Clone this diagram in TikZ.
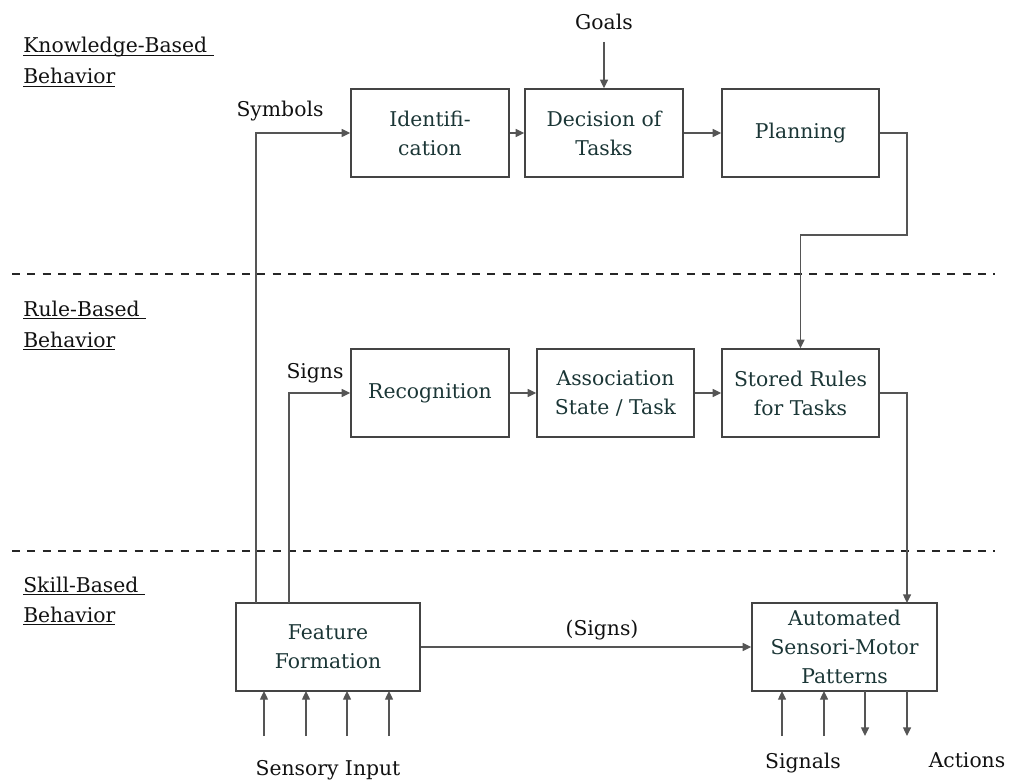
\documentclass[tikz,border=0pt]{standalone}
\usepackage{fontspec}
\setmainfont{DejaVu Serif}
\usetikzlibrary{arrows.meta}
\definecolor{boxtext}{HTML}{1B3636}
\definecolor{linegray}{HTML}{555555}
\definecolor{framegray}{HTML}{444444}
\definecolor{labeltext}{HTML}{111111}
% underline that sits just below the baseline, crossing descenders
\newcommand\baseul[1]{\setbox0\hbox{#1}\rlap{\rule[-2.2pt]{\wd0}{0.7pt}}\box0}
\begin{document}
\begin{tikzpicture}[x=0.75pt,y=-0.75pt,
  font=\fontsize{15.25pt}{21.75pt}\selectfont,
  stepbox/.style={draw=framegray,line width=1.1pt,rectangle,inner sep=0pt,
    minimum width=118.5pt,minimum height=66pt,align=center,text=boxtext},
  lbl/.style={anchor=base,inner sep=0pt,text=labeltext},
  heading/.style={anchor=base west,inner sep=0pt,text=labeltext},
  conn/.style={draw=linegray,line width=1pt},
  arr/.style={conn,-{Triangle[length=6.5pt,width=6pt]}},
  layer/.style={draw=black!85,line width=1.8pt,dash pattern=on 6pt off 5.5pt}]
\useasboundingbox (0,0) rectangle (1009,780);

% layer boundaries
\coordinate (d1a) at (12,274); \coordinate (d1b) at (995,274);
\coordinate (d2a) at (12,551); \coordinate (d2b) at (995,551);
\draw[layer] (d1a) -- (d1b);
\draw[layer] (d2a) -- (d2b);

% layer headings
\node[heading] (hk1) at (23,53) {\baseul{Knowledge-Based\ }};
\node[heading] (hk2) at (23,84) {\baseul{Behavior}};
\node[heading] (hr1) at (23,316) {\baseul{Rule-Based\ }};
\node[heading] (hr2) at (23,347) {\baseul{Behavior}};
\node[heading] (hs1) at (23,592) {\baseul{Skill-Based\ }};
\node[heading] (hs2) at (23,622) {\baseul{Behavior}};

% processing boxes
\node[stepbox] (ident) at (430,133) {Identifi-\\cation};
\node[stepbox] (decis) at (604,133) {Decision of\\Tasks};
\node[stepbox,minimum width=117.75pt] (plan) at (800.5,133) {Planning};
\node[stepbox] (recog) at (430,393) {Recognition};
\node[stepbox,minimum width=117.75pt] (assoc) at (615.5,393) {Association\\State / Task};
\node[stepbox,minimum width=117.75pt] (rules) at (800.5,393) {Stored Rules\\for Tasks};
\node[stepbox,minimum width=138pt] (feat) at (328,647) {Feature\\Formation};
\node[stepbox,minimum width=138.75pt] (auto) at (844.5,647) {Automated\\Sensori-Motor\\Patterns};

% free labels
\node[lbl] (goals) at (604,30) {Goals};
\node[lbl] (symb) at (280,117) {Symbols};
\node[lbl] (signs) at (315,378) {Signs};
\node[lbl] (signs2) at (602,635) {(Signs)};
\node[lbl] (sens) at (328,775) {Sensory Input};
\node[lbl] (sigs) at (803,768) {Signals};
\node[lbl] (acts) at (967,767) {Actions};

% knowledge level
\coordinate (g0) at (604,42);
\draw[arr] (g0) -- (decis.north);
\draw[arr] (ident.east) -- (decis.west);
\draw[arr] (decis.east) -- (plan.west);
\coordinate (pk) at (907,235);
\draw[arr] (plan.east) -| (pk) -| (rules.north);

% rule level
\draw[arr] (recog.east) -- (assoc.west);
\draw[arr] (assoc.east) -- (rules.west);
\coordinate (ain) at (907,603);
\draw[arr] (rules.east) -| (ain);

% feature formation outputs
\coordinate (fs) at (256,603);
\coordinate (fr) at (289,603);
\draw[arr] (fs) |- (ident.west);
\draw[arr] (fr) |- (recog.west);
\draw[arr] (feat.east) -- (auto.west);

% sensory inputs
\foreach \x [count=\i] in {264,306,347,389}{
  \coordinate (s\i) at (\x,736);
  \coordinate (t\i) at (\x,691);
  \draw[arr] (s\i) -- (t\i);
}

% signals in, actions out
\foreach \x [count=\i] in {782,824}{
  \coordinate (si\i) at (\x,736);
  \coordinate (sj\i) at (\x,691);
  \draw[arr] (si\i) -- (sj\i);
}
\foreach \x [count=\i] in {865,907}{
  \coordinate (ao\i) at (\x,691);
  \coordinate (ap\i) at (\x,736);
  \draw[arr] (ao\i) -- (ap\i);
}
\end{tikzpicture}
\end{document}
